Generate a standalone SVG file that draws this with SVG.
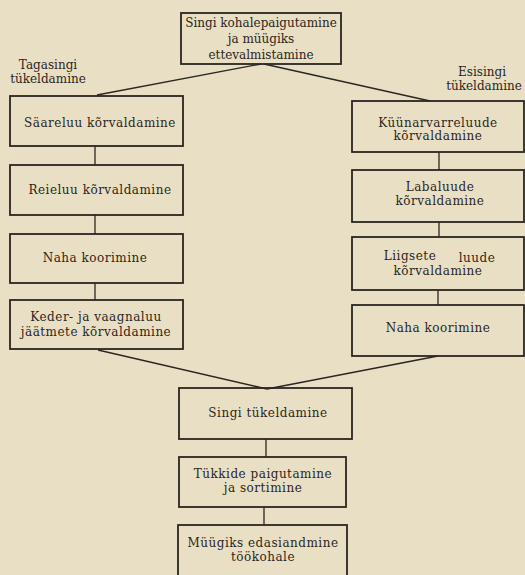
<svg xmlns="http://www.w3.org/2000/svg" width="525" height="575" viewBox="0 0 525 575">
<style>
.box{fill:none;stroke:#2b2620;stroke-width:1.8}
.ln{fill:none;stroke:#2b2620;stroke-width:1.3}
text{font-family:"DejaVu Serif","Liberation Serif",serif;font-size:12px;fill:#2b2620;text-anchor:middle;letter-spacing:0.5px}
.tight{letter-spacing:0}
</style>
<rect x="0" y="0" width="525" height="575" fill="#e9dfc4"/>
<g id="connectors">
<line class="ln" x1="261" y1="64" x2="97" y2="95"/>
<line class="ln" x1="264" y1="64" x2="430" y2="101"/>
<line class="ln" x1="95" y1="146" x2="95" y2="165"/>
<line class="ln" x1="95" y1="215" x2="95" y2="234"/>
<line class="ln" x1="95" y1="283" x2="95" y2="300"/>
<line class="ln" x1="439" y1="152" x2="439" y2="170"/>
<line class="ln" x1="439" y1="222" x2="439" y2="237"/>
<line class="ln" x1="438" y1="290" x2="438" y2="305"/>
<line class="ln" x1="98" y1="350" x2="267" y2="389"/>
<line class="ln" x1="438" y1="356" x2="267" y2="389"/>
<line class="ln" x1="266" y1="439" x2="266" y2="457"/>
<line class="ln" x1="264" y1="507" x2="264" y2="525"/>
</g>
<g id="lbl-tagasingi">
<text class="tight" x="48" y="69">Tagasingi</text>
<text class="tight" x="48" y="83">tükeldamine</text>
</g>
<g id="lbl-esisingi">
<text class="tight" x="482" y="76">Esisingi</text>
<text class="tight" x="484" y="90">tükeldamine</text>
</g>
<g id="n-top">
<rect class="box" x="181" y="13" width="160" height="51"/>
<text class="tight" x="261" y="27">Singi kohalepaigutamine</text>
<text class="tight" x="261" y="43">ja müügiks</text>
<text class="tight" x="261" y="59">ettevalmistamine</text>
</g>
<g id="n-l1">
<rect class="box" x="10" y="96" width="173" height="50"/>
<text x="100" y="127">Säareluu kõrvaldamine</text>
</g>
<g id="n-l2">
<rect class="box" x="10" y="165" width="173" height="50"/>
<text x="100" y="194">Reieluu kõrvaldamine</text>
</g>
<g id="n-l3">
<rect class="box" x="10" y="234" width="173" height="49"/>
<text x="95" y="262">Naha koorimine</text>
</g>
<g id="n-l4">
<rect class="box" x="10" y="300" width="173" height="49"/>
<text x="96" y="321">Keder- ja vaagnaluu</text>
<text x="96" y="336">jäätmete kõrvaldamine</text>
</g>
<g id="n-r1">
<rect class="box" x="352" y="101" width="172" height="51"/>
<text x="438" y="127">Küünarvarreluude</text>
<text x="438" y="140">kõrvaldamine</text>
</g>
<g id="n-r2">
<rect class="box" x="352" y="170" width="172" height="52"/>
<text x="440" y="191">Labaluude</text>
<text x="440" y="205">kõrvaldamine</text>
</g>
<g id="n-r3">
<rect class="box" x="352" y="237" width="172" height="53"/>
<text x="410" y="260">Liigsete</text>
<text x="477" y="262">luude</text>
<text x="438" y="275">kõrvaldamine</text>
</g>
<g id="n-r4">
<rect class="box" x="352" y="305" width="172" height="51"/>
<text x="438" y="332">Naha koorimine</text>
</g>
<g id="n-b1">
<rect class="box" x="179" y="388" width="173" height="51"/>
<text x="268" y="417">Singi tükeldamine</text>
</g>
<g id="n-b2">
<rect class="box" x="179" y="457" width="167" height="50"/>
<text x="263" y="478">Tükkide paigutamine</text>
<text x="263" y="492">ja  sortimine</text>
</g>
<g id="n-b3">
<rect class="box" x="178" y="525" width="169" height="52"/>
<text x="263" y="547">Müügiks edasiandmine</text>
<text x="263" y="561">töökohale</text>
</g>
</svg>
